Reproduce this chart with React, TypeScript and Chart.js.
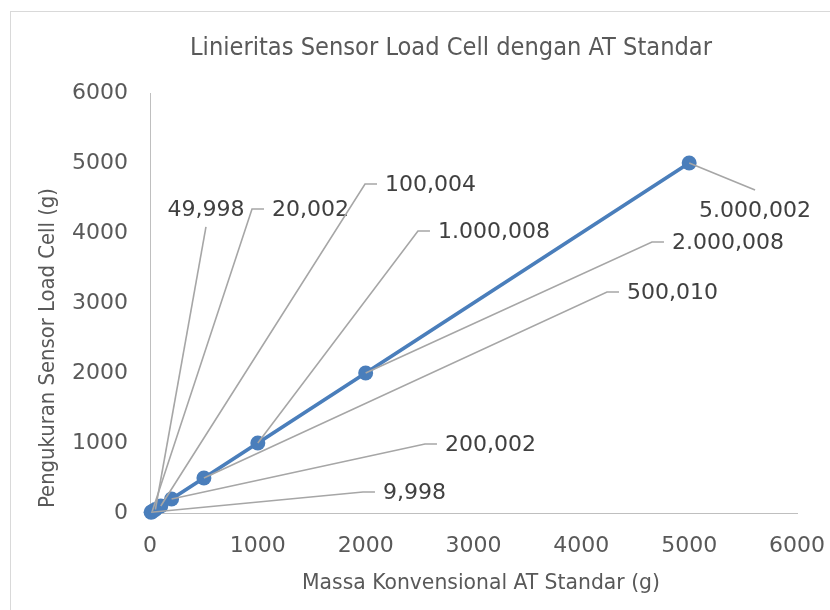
import React, { useEffect, useRef } from 'react';
import { Chart, registerables } from 'chart.js';

Chart.register(...registerables);

// ---- data ----
const massaStandar = [10, 20, 50, 100, 200, 500, 1000, 2000, 5000];
const pengukuran = [9.998, 20.002, 49.998, 100.004, 200.002, 500.01, 1000.008, 2000.008, 5000.002];
const axisTicks = [0, 1000, 2000, 3000, 4000, 5000, 6000];
// data-label leader-line end points (axis units) and label side
const labelAnchorX = [1975, 946, 519, 1994, 2550, 4238, 2485, 4655, 5611];
const labelAnchorY = [300, 4343, 4086, 4700, 986, 3157, 4029, 3871, 4614];
const labelSide = ['right', 'right', 'above', 'right', 'right', 'right', 'right', 'right', 'below'];

const chartTitle = 'Linieritas Sensor Load Cell dengan AT Standar';
const xTitle = 'Massa Konvensional AT Standar (g)';
const yTitle = 'Pengukuran Sensor Load Cell (g)';

const NUM_FONT = '"DejaVu Sans", "Liberation Sans", sans-serif';
const TITLE_FONT = '"Liberation Sans Narrow", "DejaVu Sans Condensed", "Liberation Sans", sans-serif';

function formatID(v: number): string {
  const s = v.toFixed(3);
  const [ip, fp] = s.split('.');
  const withSep = ip.replace(/\B(?=(\d{3})+(?!\d))/g, '.');
  return withSep + ',' + fp;
}

function drawFit(ctx: CanvasRenderingContext2D, text: string, cx: number, baseY: number, w: number, font: string, rot = 0) {
  ctx.save();
  ctx.font = font;
  const m = ctx.measureText(text).width;
  ctx.translate(cx, baseY);
  ctx.rotate(rot);
  ctx.scale(w / m, 1);
  ctx.textAlign = 'center';
  ctx.textBaseline = 'alphabetic';
  ctx.fillText(text, 0, 0);
  ctx.restore();
}

const decorPlugin = {
  id: 'decor',
  beforeDraw(chart: any) {
    const ctx = chart.ctx as CanvasRenderingContext2D;
    ctx.save();
    ctx.fillStyle = '#ffffff';
    ctx.fillRect(0, 0, chart.width, chart.height);
    ctx.strokeStyle = '#d9d9d9';
    ctx.lineWidth = 1;
    ctx.strokeRect(10.5, 11.5, chart.width + 200, chart.height + 200);
    ctx.restore();
  },
  afterDatasetsDraw(chart: any) {
    const ctx = chart.ctx as CanvasRenderingContext2D;
    const xs = chart.scales.x;
    const ys = chart.scales.y;
    const meta = chart.getDatasetMeta(0);
    ctx.save();
    ctx.strokeStyle = '#a6a6a6';
    ctx.lineWidth = 1.6;
    ctx.fillStyle = '#404040';
    ctx.font = '22px ' + NUM_FONT;
    ctx.textBaseline = 'middle';
    meta.data.forEach((pt: any, i: number) => {
      const ax = xs.getPixelForValue(labelAnchorX[i]);
      const ay = ys.getPixelForValue(labelAnchorY[i]);
      const text = formatID(pengukuran[i]);
      ctx.beginPath();
      ctx.moveTo(pt.x, pt.y);
      ctx.lineTo(ax, ay);
      if (labelSide[i] === 'right') {
        ctx.lineTo(ax + 12, ay);
        ctx.stroke();
        ctx.textAlign = 'left';
        ctx.fillText(text, ax + 20, ay + 1);
      } else if (labelSide[i] === 'above') {
        ctx.stroke();
        ctx.textAlign = 'center';
        ctx.fillText(text, ax, ay - 17);
      } else {
        ctx.stroke();
        ctx.textAlign = 'center';
        ctx.fillText(text, ax, ay + 21);
      }
    });
    ctx.restore();
  },
  afterDraw(chart: any) {
    const ctx = chart.ctx as CanvasRenderingContext2D;
    ctx.save();
    ctx.fillStyle = '#595959';
    drawFit(ctx, chartTitle, 451, 55, 522, '25px ' + TITLE_FONT);
    drawFit(ctx, xTitle, 481, 589, 358, '22px ' + TITLE_FONT);
    drawFit(ctx, yTitle, 54, 348, 320, '22px ' + TITLE_FONT, -Math.PI / 2);
    ctx.restore();
  },
};

export default function App() {
  const ref = useRef<HTMLCanvasElement | null>(null);
  useEffect(() => {
    if (!ref.current) return;
    const tickCommon = {
      font: { family: NUM_FONT, size: 22 },
      color: '#595959',
      autoSkip: false,
      maxRotation: 0,
      callback: (v: any) => String(v),
    };
    const chart = new Chart(ref.current, {
      type: 'scatter',
      data: {
        datasets: [
          {
            data: massaStandar.map((x, i) => ({ x, y: pengukuran[i] })),
            showLine: true,
            borderColor: '#4a7ebb',
            backgroundColor: '#4a7ebb',
            borderWidth: 3.8,
            pointRadius: 7.5,
            pointBorderWidth: 0,
            pointBackgroundColor: '#4a7ebb',
            clip: false as any,
            tension: 0,
          } as any,
        ],
      },
      options: {
        responsive: false,
        animation: false,
        devicePixelRatio: 1,
        layout: { padding: { left: 10, top: 93, right: 33, bottom: 0 } },
        plugins: {
          legend: { display: false },
          title: { display: false },
          tooltip: { enabled: false },
        },
        scales: {
          x: {
            type: 'linear',
            min: 0,
            max: 6000,
            afterFit: (s: any) => {
              s.height = 97;
              s.paddingLeft = 0;
              s.paddingRight = 0;
            },
            afterBuildTicks: (s: any) => { s.ticks = axisTicks.map((v) => ({ value: v })); },
            grid: { display: false, drawTicks: false },
            border: { display: true, color: '#bfbfbf', width: 1 },
            ticks: { ...tickCommon, padding: 20 },
          },
          y: {
            type: 'linear',
            min: 0,
            max: 6000,
            afterFit: (s: any) => {
              s.width = 140;
              s.paddingTop = 0;
              s.paddingBottom = 0;
            },
            afterBuildTicks: (s: any) => { s.ticks = axisTicks.map((v) => ({ value: v })); },
            grid: { display: false, drawTicks: false },
            border: { display: true, color: '#bfbfbf', width: 1 },
            ticks: { ...tickCommon, padding: 22 },
          },
        },
      } as any,
      plugins: [decorPlugin],
    });
    return () => chart.destroy();
  }, []);
  return (
    <div style={{ position: 'fixed', left: 0, top: 0, width: 830, height: 610, overflow: 'hidden', background: '#fff' }}>
      <canvas ref={ref} width={830} height={610} style={{ display: 'block', width: 830, height: 610 }} />
    </div>
  );
}
